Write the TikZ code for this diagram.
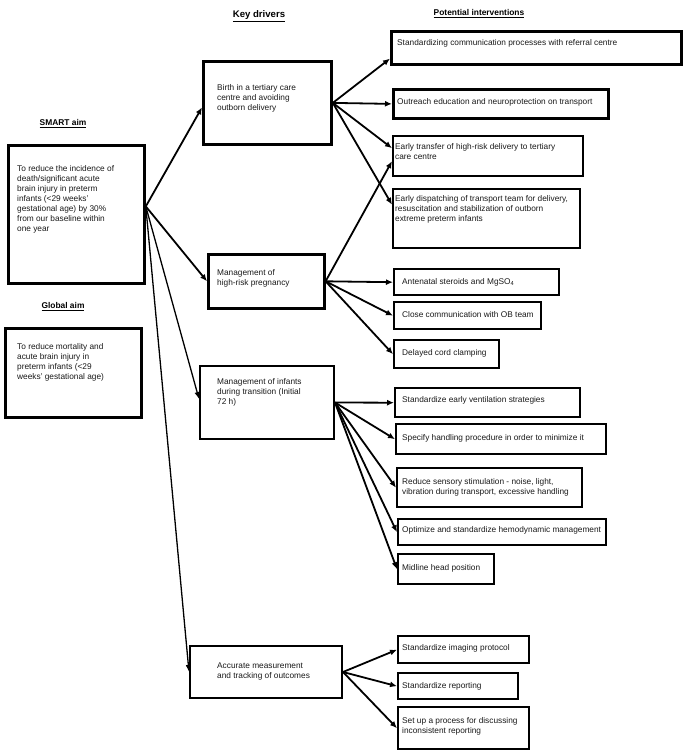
\documentclass[tikz,border=0pt]{standalone}
\usepackage{fontspec}
\setmainfont{Liberation Sans}
\usetikzlibrary{arrows.meta,calc}
\begin{document}
\begin{tikzpicture}[x=1pt,y=-1pt,
  box/.style={draw, line width=2.4pt, inner sep=0pt, anchor=north west},
  txt/.style={anchor=base west, inner sep=0pt, font=\fontsize{8.3}{10}\selectfont, text=black!90},
  head/.style={anchor=base, inner sep=0pt, font=\fontsize{8.4}{10}\selectfont\bfseries},
  arr/.style={-{Latex[length=7pt,width=6pt]}, line width=1.8pt},
  thinarr/.style={-{Latex[length=7pt,width=5.5pt]}, line width=1.3pt}]
\useasboundingbox (0,0) rectangle (683,751);
\newcommand\ml[1]{\begin{tabular}[t]{@{}l@{}}#1\end{tabular}}
% headers
\node[head, font=\fontsize{9.6}{10}\selectfont\bfseries] (hkd) at (259,17.5) {\underline{Key drivers}};
\node[head] (hpi) at (479,15.5) {\underline{Potential interventions}};
\node[head] (hsa) at (63,125.5) {\underline{SMART aim}};
\node[head] (hga) at (63,308.5) {\underline{Global aim}};
% aim boxes
\node[box, line width=2.8pt, minimum width=136, minimum height=138] (smart) at (7,144) {};
\node[txt] (tsmart) at (17,171.5) {\ml{To reduce the incidence of\\death/significant acute\\brain injury in preterm\\infants (<29 weeks’\\gestational age) by 30\%\\from our baseline within\\one year}};
\node[box, line width=2.8pt, minimum width=136, minimum height=89] (global) at (4,327) {};
\node[txt] (tglobal) at (17,349.5) {\ml{To reduce mortality and\\acute brain injury in\\preterm infants (<29\\weeks’ gestational age)}};
% key drivers
\node[box, line width=2.8pt, minimum width=128, minimum height=83] (birth) at (202,60) {};
\node[txt] (tbirth) at (217,90.5) {\ml{Birth in a tertiary care\\centre and avoiding\\outborn delivery}};
\node[box, line width=2.6pt, minimum width=116, minimum height=54] (hr) at (207,253) {};
\node[txt] (thr) at (217,275.5) {\ml{Management of\\high-risk pregnancy}};
\node[box, line width=2pt, minimum width=134, minimum height=73] (inf) at (199,365) {};
\node[txt] (tinf) at (217,384.5) {\ml{Management of infants\\during transition (Initial\\72 h)}};
\node[box, line width=2pt, minimum width=152, minimum height=52] (acc) at (189,645) {};
\node[txt] (tacc) at (217,668.5) {\ml{Accurate measurement\\and tracking of outcomes}};
% interventions
\node[box, line width=3.2pt, minimum width=290, minimum height=33] (i1) at (390,30) {};
\node[txt] (ti1) at (397,45.5) {Standardizing communication processes with referral centre};
\node[box, line width=2.8pt, minimum width=215, minimum height=29] (i2) at (392,88) {};
\node[txt] (ti2) at (397,104.5) {Outreach education and neuroprotection on transport};
\node[box, minimum width=190, minimum height=40] (i3) at (392,135) {};
\node[txt] (ti3) at (395,149.5) {\ml{Early transfer of high-risk delivery to tertiary\\care centre}};
\node[box, minimum width=187, minimum height=59] (i4) at (392,188) {};
\node[txt] (ti4) at (395,201.5) {\ml{Early dispatching of transport team for delivery,\\resuscitation and stabilization of outborn\\extreme preterm infants}};
\node[box, minimum width=165, minimum height=26] (i5) at (393,268) {};
\node[txt] (ti5) at (402,284.5) {Antenatal steroids and MgSO\textsubscript{4}};
\node[box, minimum width=147, minimum height=27] (i6) at (393,301) {};
\node[txt] (ti6) at (402,317.5) {Close communication with OB team};
\node[box, minimum width=105, minimum height=28] (i7) at (393,339) {};
\node[txt] (ti7) at (402,355.5) {Delayed cord clamping};
\node[box, minimum width=185, minimum height=29] (i8) at (394,387) {};
\node[txt] (ti8) at (402,402.5) {Standardize early ventilation strategies};
\node[box, minimum width=210, minimum height=30] (i9) at (395,423) {};
\node[txt] (ti9) at (402,440.5) {Specify handling procedure in order to minimize it};
\node[box, minimum width=185, minimum height=39] (i10) at (396,467) {};
\node[txt] (ti10) at (402,484.5) {\ml{Reduce sensory stimulation - noise, light,\\vibration during transport, excessive handling}};
\node[box, minimum width=208, minimum height=26] (i11) at (397,518) {};
\node[txt] (ti11) at (402,532.5) {Optimize and standardize hemodynamic management};
\node[box, minimum width=96, minimum height=30] (i12) at (397,553) {};
\node[txt] (ti12) at (402,570.5) {Midline head position};
\node[box, minimum width=131, minimum height=27] (i13) at (397,635) {};
\node[txt] (ti13) at (402,650.5) {Standardize imaging protocol};
\node[box, minimum width=120, minimum height=26] (i14) at (397,672) {};
\node[txt] (ti14) at (402,688.5) {Standardize reporting};
\node[box, minimum width=131, minimum height=42] (i15) at (397,706) {};
\node[txt] (ti15) at (402,723.5) {\ml{Set up a process for discussing\\inconsistent reporting}};
% connectors from SMART aim
\coordinate (so) at ([yshift=8pt]smart.east);
\draw[arr] (so) -- ([yshift=-4.5pt]birth.west);
\draw[arr] (so) -- (hr.west);
\draw[thinarr] (so) -- ([yshift=3.5pt]inf.west);
\draw[thinarr] (so) -- (acc.west);
% from birth
\draw[arr] (birth.east) -- ([yshift=-10.5pt]i1.west);
\draw[arr] (birth.east) -- (i2.west);
\draw[arr] (birth.east) -- ([yshift=8pt]i3.west);
\draw[arr] (birth.east) -- ([yshift=14pt]i4.west);
% from high-risk
\draw[arr] (hr.east) -- ([yshift=-5pt]i3.west);
\draw[arr] (hr.east) -- (i5.west);
\draw[arr] (hr.east) -- (i6.west);
\draw[arr] (hr.east) -- (i7.west);
% from infants
\draw[arr] (inf.east) -- (i8.west);
\draw[arr] (inf.east) -- (i9.west);
\draw[arr] (inf.east) -- (i10.west);
\draw[arr] (inf.east) -- (i11.west);
\draw[arr] (inf.east) -- (i12.west);
% from accurate
\draw[arr] (acc.east) -- (i13.west);
\draw[arr] (acc.east) -- (i14.west);
\draw[arr] (acc.east) -- (i15.west);
\end{tikzpicture}
\end{document}
